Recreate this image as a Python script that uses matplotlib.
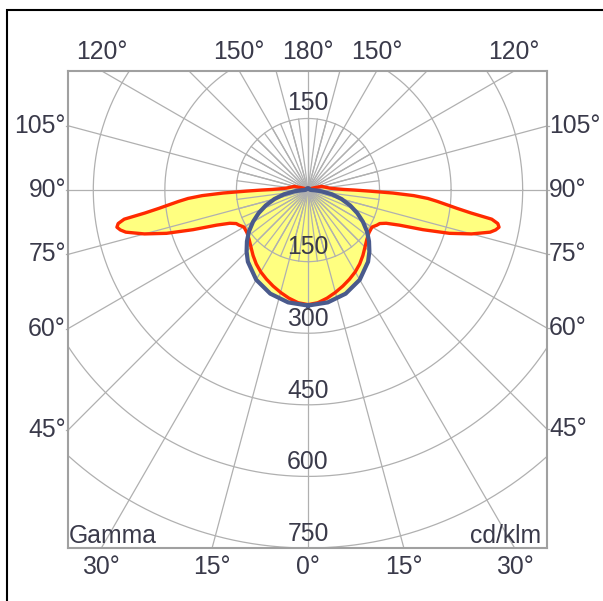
import numpy as np
import matplotlib.pyplot as plt
from matplotlib.patches import Rectangle

plt.rcParams['font.family'] = ['Liberation Sans', 'DejaVu Sans']

# C90-270 plane (red), gamma in degrees from nadir, cd/klm
gamma_red = [0, 5, 10, 15, 20, 25, 30, 35, 40, 45, 50, 55, 60, 63, 65, 67, 69, 71, 73,
             75, 77, 78, 79, 80, 81, 82, 83, 84, 85, 86, 87, 88, 89, 90, 91, 93, 95,
             100, 105, 110, 120, 135, 150, 165, 180]
red_cd = [240, 237, 230, 222, 214, 206, 198, 189, 179, 169, 161, 156, 155, 162, 166, 178, 205, 255, 310,
          355, 392, 402, 408, 404, 390, 345, 315, 292, 272, 252, 222, 178, 130, 98, 75, 56, 46,
          36, 30, 14, 6, 4, 4, 4, 4]

# C0-180 plane (blue)
gamma_blue = [0, 10, 20, 30, 40, 45, 50, 55, 60, 65, 70, 75, 80, 85, 88, 90, 95, 105, 120, 150, 180]
blue_cd = [242, 239, 231, 217, 196, 182, 167, 151, 133, 114, 94, 73, 51, 28, 14, 8, 5, 4, 4, 4, 4]

ring_values = [150, 300, 450, 600, 750]
angle_labels = [0, 15, 30, 45, 60, 75, 90, 105, 120, 150, 180]

txt_col = '#3a3a4a'
grid_col = '#b0b0b0'
fs = 17.8


def outline(gam, val):
    g = np.radians(np.asarray(gam, float))
    v = np.asarray(val, float)
    x = v * np.sin(g)
    y = -v * np.cos(g)
    return np.concatenate([x, -x[::-1]]), np.concatenate([y, y[::-1]])


fig = plt.figure(figsize=(6.03, 6.01), dpi=100)
ax = fig.add_axes([68 / 603, 1 - 548 / 601, 479 / 603, 477 / 601])
xmin, xmax, ymin, ymax = -503, 501, -750, 249.5
ax.set_xlim(xmin, xmax)
ax.set_ylim(ymin, ymax)
ax.set_xticks([])
ax.set_yticks([])
for s in ax.spines.values():
    s.set_color('#a0a0a0')
    s.set_linewidth(1.5)

# fills
xr, yr = outline(gamma_red, red_cd)
xb, yb = outline(gamma_blue, blue_cd)
ax.fill(xr, yr, color='#ffff80', lw=0, zorder=1)
ax.fill(xb, yb, color='#ffff80', lw=0, zorder=1)

# grid: rings
th = np.linspace(0, 2 * np.pi, 721)
for r in ring_values:
    ax.plot(r * np.cos(th), r * np.sin(th), color=grid_col, lw=0.9, zorder=2)
# radial lines
for a in np.arange(0, 360, 15):
    g = np.radians(a)
    ax.plot([0, 1200 * np.sin(g)], [0, -1200 * np.cos(g)], color=grid_col, lw=0.9, zorder=2)
for a in np.arange(0, 360, 7.5):
    g = np.radians(a)
    ax.plot([0, 150 * np.sin(g)], [0, -150 * np.cos(g)], color=grid_col, lw=0.9, zorder=2)

# curves
ax.plot(xr, yr, color='#ff2a00', lw=2.4, zorder=3, solid_joinstyle='round')
ax.plot(xb, yb, color='#4a5a8c', lw=3.0, zorder=4, solid_joinstyle='round')

# radial value labels
ax.text(0, ring_values[0] + 33, str(ring_values[0]), ha='center', va='center',
        fontsize=fs, color=txt_col, zorder=5)
for r in ring_values:
    ax.text(0, -r + 30, str(r), ha='center', va='center', fontsize=fs, color=txt_col, zorder=5)

# angle labels on box edges
for a in angle_labels:
    sides = [1] if a in (0, 180) else [1, -1]
    for sd in sides:
        g = np.radians(a)
        dx, dy = sd * np.sin(g), -np.cos(g)
        t_side = (xmax if dx > 0 else -xmin) / abs(dx) if abs(dx) > 1e-9 else np.inf
        t_vert = (-ymin if dy < 0 else ymax) / abs(dy) if abs(dy) > 1e-9 else np.inf
        t = min(t_side, t_vert)
        px, py = t * dx, t * dy
        if t_vert <= t_side:
            off = (0, -14) if dy < 0 else (0, 14)
            ha = 'center'
        else:
            off = (-1.5, 0) if dx < 0 else (1.5, 0)
            ha = 'right' if dx < 0 else 'left'
            # short tick outside the box
            ax.plot([px, px + np.sign(dx) * 5], [py, py], color=grid_col, lw=0.9, clip_on=False)
        ax.annotate(f'{a}°', (px, py), xytext=off, textcoords='offset points',
                    ha=ha, va='center', fontsize=fs, color=txt_col, annotation_clip=False)

ax.annotate('Gamma', (0, 0), xycoords='axes fraction', xytext=(0.5, 3.6),
            textcoords='offset points', ha='left', va='baseline', fontsize=fs, color=txt_col)
ax.annotate('cd/klm', (1, 0), xycoords='axes fraction', xytext=(-4.5, 3.6),
            textcoords='offset points', ha='right', va='baseline', fontsize=fs, color=txt_col)

# outer frame
fig.patches.append(Rectangle((7 / 603, -0.1), 1.2, 1 - 10 / 601 + 0.1, transform=fig.transFigure,
                             fill=False, edgecolor='black', lw=1.5))

fig.savefig('out.png', dpi=100)
